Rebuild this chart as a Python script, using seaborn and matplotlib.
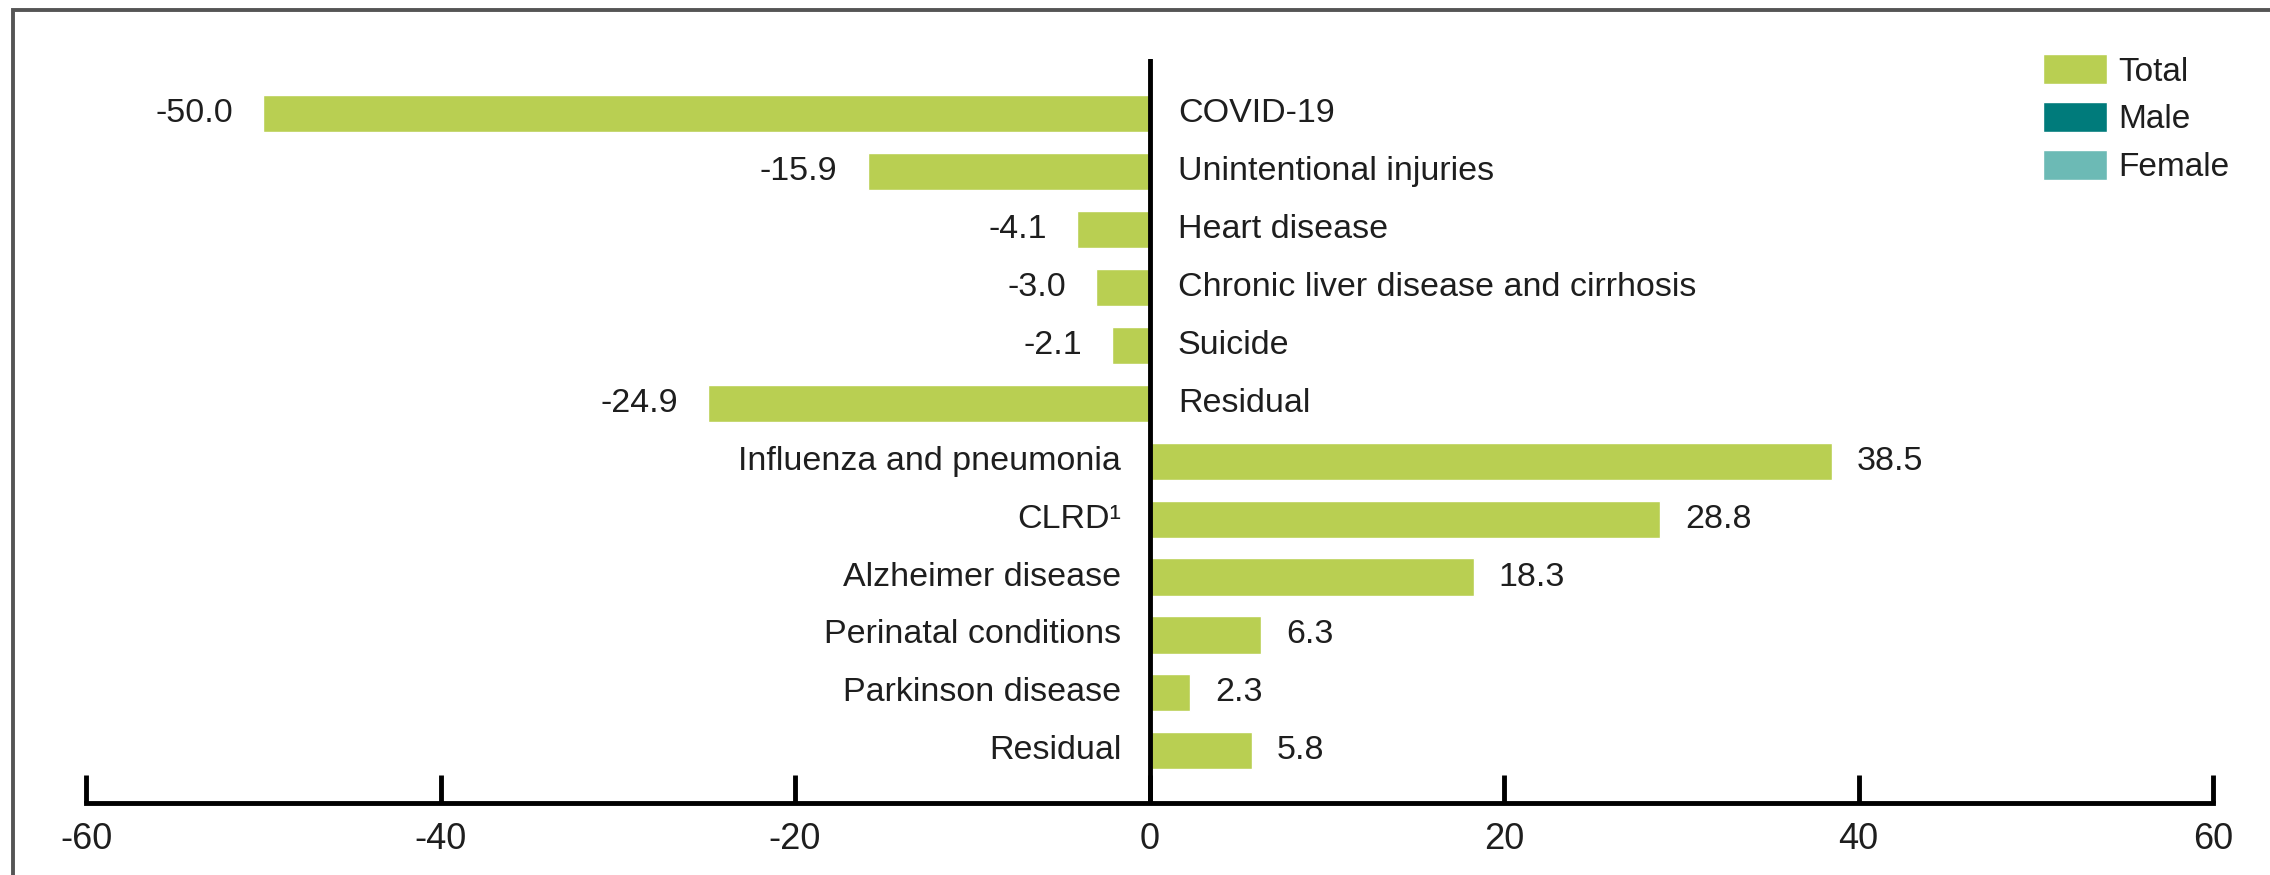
import pandas as pd
import numpy as np
import matplotlib
matplotlib.use('Agg')
import matplotlib.pyplot as plt
from matplotlib.patches import Patch, Rectangle
import seaborn as sns

# Data
causes = ['COVID-19', 'Unintentional injuries', 'Heart disease',
          'Chronic liver disease and cirrhosis', 'Suicide', 'Residual',
          'Influenza and pneumonia', 'CLRD¹', 'Alzheimer disease',
          'Perinatal conditions', 'Parkinson disease', 'Residual']
values = [-50.0, -15.9, -4.1, -3.0, -2.1, -24.9,
          38.5, 28.8, 18.3, 6.3, 2.3, 5.8]
xticks = [-60, -40, -20, 0, 20, 40, 60]
legend_labels = ['Total', 'Male', 'Female']

total_color = '#b9cf52'
male_color = '#007b7b'
female_color = '#6cbab5'

df = pd.DataFrame({'row': range(len(causes)), 'cause': causes, 'value': values})

sns.set_theme(style='white')
plt.rcParams['font.family'] = ['Liberation Sans', 'DejaVu Sans']

fig = plt.figure(figsize=(22.7, 8.75), dpi=100)
ax = fig.add_axes([86 / 2270, 72 / 875, (2213 - 86) / 2270, (803 - 59) / 875])

sns.barplot(data=df, x='value', y='row', orient='h', color=total_color,
            width=0.64, saturation=1, ax=ax)

ax.set_xlim(-60, 60)
ax.set_ylim(11.9, -0.94)
ax.axvline(0, color='black', lw=3.5, zorder=5)

txt_color = '#1e1e1e'
for i, (c, v) in enumerate(zip(causes, values)):
    if v < 0:
        ax.text(v - 1.7, i, f'{v:.1f}', ha='right', va='center', fontsize=24.5, color=txt_color)
        ax.text(1.6, i, c, ha='left', va='center', fontsize=24.5, color=txt_color)
    else:
        ax.text(v + 1.4, i, f'{v:.1f}', ha='left', va='center', fontsize=24.5, color=txt_color)
        ax.text(-1.6, i, c, ha='right', va='center', fontsize=24.5, color=txt_color)

ax.set_xticks(xticks)
ax.set_xticklabels([str(t) for t in xticks], fontsize=26, color=txt_color)
ax.set_yticks([])
ax.set_xlabel('')
ax.set_ylabel('')
ax.tick_params(axis='x', direction='in', length=20, width=3.5, color='black', pad=14, bottom=True)
for s in ['top', 'right', 'left']:
    ax.spines[s].set_visible(False)
ax.spines['bottom'].set_linewidth(3.5)
ax.spines['bottom'].set_color('black')

handles = [Patch(facecolor=total_color), Patch(facecolor=male_color), Patch(facecolor=female_color)]
fig.legend(handles, legend_labels, loc='upper left', bbox_to_anchor=(2030 / 2270, 1 - 41 / 875),
           frameon=False, fontsize=24, handlelength=1.9, handleheight=1.0,
           handletextpad=0.35, labelspacing=0.43, borderaxespad=0, labelcolor=txt_color)

# frame around the figure (cropped on right/bottom)
fig.patches.append(Rectangle((13 / 2270, -0.1), 1.2, 1.1 - 10 / 875, transform=fig.transFigure,
                             fill=False, edgecolor='#555555', lw=2.8))

fig.savefig('out.png', dpi=100)
